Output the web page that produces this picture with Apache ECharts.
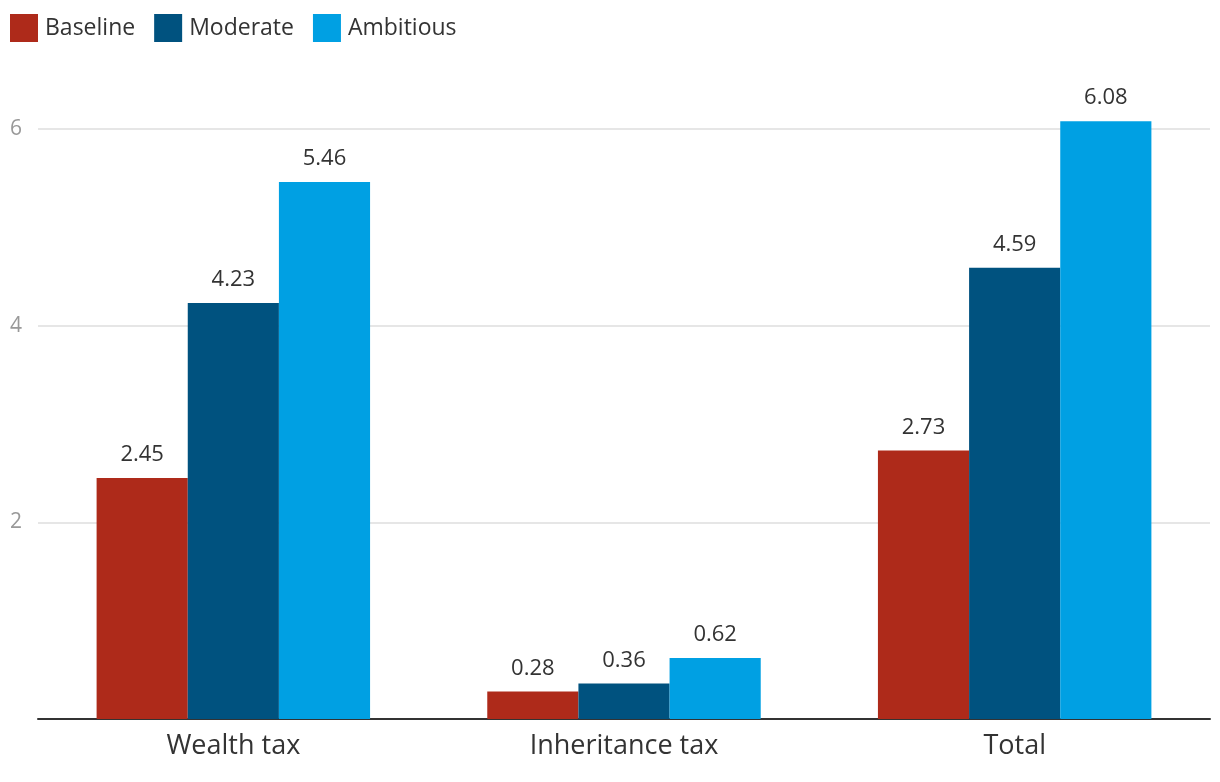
<!DOCTYPE html>
<html><head><meta charset="utf-8">
<script src="https://cdn.jsdelivr.net/npm/echarts@6/dist/echarts.min.js"></script>
<style>html,body{margin:0;padding:0;background:#fff}#c{width:1220px;height:782px}</style>
</head><body><div id="c"></div>
<script>
const categories = ['Wealth tax', 'Inheritance tax', 'Total'];
const baseline = [2.45, 0.28, 2.73];
const moderate = [4.23, 0.36, 4.59];
const ambitious = [5.46, 0.62, 6.08];
const seriesNames = ['Baseline', 'Moderate', 'Ambitious'];
const colors = ['#ae2a1a', '#00527f', '#00a0e3'];
const FONT = 'Open Sans';

const chart = echarts.init(document.getElementById('c'));
function mk(name, data, color) {
  return {
    name, type: 'bar', data, clip: false,
    barGap: '0%', barCategoryGap: '30%',
    itemStyle: { color },
    label: { show: true, position: 'top', distance: 12, color: '#333', fontSize: 22, fontFamily: FONT,
      formatter: p => p.value.toFixed(2) }
  };
}
chart.setOption({
  animation: false,
  color: colors,
  textStyle: { fontFamily: FONT },
  legend: {
    left: 5, top: 9, itemWidth: 28, itemHeight: 28, itemGap: 19,
    icon: 'rect',
    textStyle: { fontSize: 23, color: '#333', fontFamily: FONT, padding: [0, 0, 0, 2] },
    data: seriesNames
  },
  grid: { left: 38, right: 10, top: 129, bottom: 63, containLabel: false },
  xAxis: {
    type: 'category', data: categories,
    axisLine: { lineStyle: { color: '#333', width: 2 } },
    axisTick: { show: false },
    axisLabel: { fontSize: 27, color: '#333', margin: 14, fontFamily: FONT }
  },
  yAxis: {
    type: 'value', min: 0, max: 6, interval: 2,
    axisLine: { show: false }, axisTick: { show: false },
    axisLabel: { fontSize: 21, color: '#999', margin: 16, fontFamily: FONT,
      formatter: v => v === 0 ? '' : String(v) },
    splitLine: { lineStyle: { color: '#e6e6e6', width: 2 } }
  },
  series: [mk(seriesNames[0], baseline, colors[0]), mk(seriesNames[1], moderate, colors[1]), mk(seriesNames[2], ambitious, colors[2])]
});
</script></body></html>
